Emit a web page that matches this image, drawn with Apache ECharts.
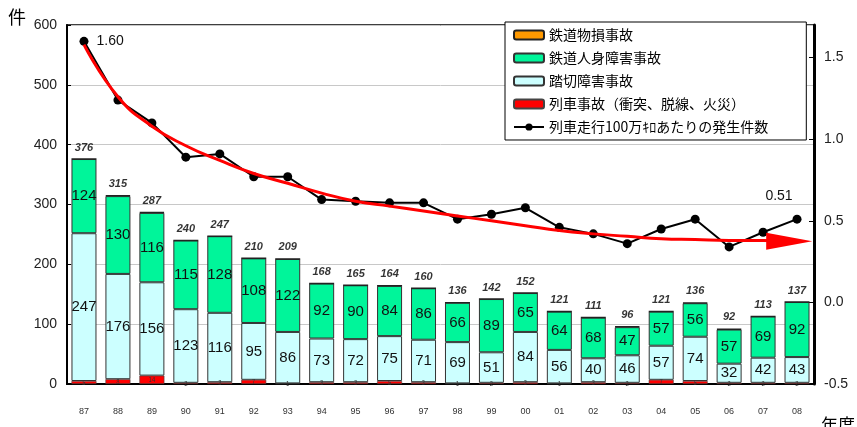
<!DOCTYPE html>
<html>
<head>
<meta charset="utf-8">
<script src="https://cdn.jsdelivr.net/npm/echarts@6/dist/echarts.min.js"></script>
<style>html,body{margin:0;padding:0;background:#fff;}#c{width:857px;height:427px;}</style>
</head>
<body>
<div id="c"></div>
<script>
const years = ['87','88','89','90','91','92','93','94','95','96','97','98','99','00','01','02','03','04','05','06','07','08'];
const trainAccident = [5,8,14,2,3,7,1,3,3,5,3,1,2,3,1,3,2,7,5,2,2,2];
const crossingAccident = [247,176,156,123,116,95,86,73,72,75,71,69,51,84,56,40,46,57,74,32,42,43];
const injuryAccident = [124,130,116,115,128,108,122,92,90,84,86,66,89,65,64,68,47,57,56,57,69,92];
const propertyAccident = [0,1,1,0,0,0,0,0,0,0,0,0,0,0,0,0,1,0,1,1,0,0];
const totals = [376,315,287,240,247,210,209,168,165,164,160,136,142,152,121,111,96,121,136,92,113,137];
const ratePerMillionKm = [1.60,1.24,1.10,0.89,0.91,0.77,0.77,0.63,0.62,0.61,0.61,0.51,0.54,0.58,0.46,0.42,0.36,0.45,0.51,0.34,0.43,0.51];
const trendX = [0,1,2,3,4,5,6,7,8,9,10,11,12,13,14,15,16,17,18,19,20,20.77];
const trendY = [1.58,1.26,1.08,0.96,0.87,0.79,0.73,0.67,0.62,0.59,0.56,0.53,0.50,0.47,0.44,0.42,0.405,0.39,0.385,0.38,0.38,0.375];
const leftTicks = {min:0, max:600, interval:100};
const rightTicks = {min:-0.5, max:1.7, interval:0.5};

const names = ['鉄道物損事故','鉄道人身障害事故','踏切障害事故','列車事故（衝突、脱線、火災）','列車走行100万ｷﾛあたりの発生件数'];
const FONT = '"Noto Sans CJK JP", "Liberation Sans", sans-serif';
const NUM = '"Liberation Sans", Arial, sans-serif';
const chart = echarts.init(document.getElementById('c'));
const barCommon = {type:'bar', stack:'t', barWidth:25, xAxisIndex:0, yAxisIndex:0};
chart.setOption({
  animation:false,
  textStyle:{fontFamily:FONT},
  grid:{left:67, right:43, top:25, bottom:43, show:true, borderColor:'#000', borderWidth:1.5, backgroundColor:'transparent'},
  legend:{
    orient:'vertical', left:505, top:22,
    data:names,
    itemWidth:30, itemHeight:9, itemGap:9,
    backgroundColor:'#fff', borderColor:'#000', borderWidth:1,
    padding:[6,38,6,8],
    textStyle:{fontSize:14, color:'#000', fontFamily:FONT}
  },
  xAxis:[
    {type:'category', data:years, boundaryGap:true,
     axisLine:{onZero:false, lineStyle:{color:'#000', width:2}},
     axisTick:{inside:true, length:4, lineStyle:{color:'#000'}},
     axisLabel:{fontSize:9, color:'#333', margin:23, fontFamily:NUM}},
    {type:'value', min:-0.5, max:21.5, show:false, axisLine:{onZero:false}}
  ],
  yAxis:[
    {type:'value', min:leftTicks.min, max:leftTicks.max, interval:leftTicks.interval,
     axisLine:{show:true, onZero:false, lineStyle:{color:'#000', width:2}},
     axisTick:{show:true, inside:true, length:4, lineStyle:{color:'#000'}},
     axisLabel:{fontSize:14, color:'#222', margin:10, fontFamily:NUM},
     splitLine:{lineStyle:{color:'#c8c8c8', width:1}}},
    {type:'value', min:rightTicks.min, max:rightTicks.max, interval:rightTicks.interval, position:'right',
     axisLine:{show:true, onZero:false, lineStyle:{color:'#000', width:3}},
     axisTick:{show:true, inside:true, length:5, lineStyle:{color:'#000'}},
     axisLabel:{fontSize:14, color:'#222', margin:10, fontFamily:NUM, showMaxLabel:false,
       formatter:v=>v.toFixed(1)},
     splitLine:{show:false}}
  ],
  graphic:[
    {type:'text', left:8, top:8, style:{text:'件', fontSize:18, fill:'#000', fontFamily:FONT}},
    {type:'text', left:821, top:416, style:{text:'年度', fontSize:17, fill:'#000', fontFamily:FONT}}
  ],
  series:[
    Object.assign({}, barCommon, {name:names[3], data:trainAccident,
      itemStyle:{color:'#ff0000', borderColor:'#444', borderWidth:0.6},
      label:{show:true, fontSize:6, color:'#333', formatter:p=>p.value>0?p.value:''}}),
    Object.assign({}, barCommon, {name:names[2], data:crossingAccident,
      itemStyle:{color:'#ccffff', borderColor:'#333', borderWidth:1},
      label:{show:true, fontSize:15, color:'#111', fontFamily:NUM}}),
    Object.assign({}, barCommon, {name:names[1], data:injuryAccident,
      itemStyle:{color:'#00f59a', borderColor:'#333', borderWidth:1},
      label:{show:true, fontSize:15, color:'#111', fontFamily:NUM}}),
    Object.assign({}, barCommon, {name:names[0], data:propertyAccident,
      itemStyle:{color:'#ff9900', borderColor:'#222', borderWidth:1.5}}),
    {type:'scatter', name:'total', data:totals, xAxisIndex:0, yAxisIndex:0, symbolSize:0, silent:true,
      label:{show:true, position:'top', distance:6, fontSize:11, fontStyle:'italic', fontWeight:'bold', color:'#000', fontFamily:NUM}},
    {type:'line', name:names[4], data:ratePerMillionKm.map((v,i)=>{
        if(i===0) return {value:v, label:{show:true, position:'right', distance:8, formatter:v.toFixed(2)}};
        if(i===ratePerMillionKm.length-1) return {value:v, label:{show:true, position:'top', distance:12, offset:[-18,0], formatter:v.toFixed(2)}};
        return v;
      }),
      xAxisIndex:0, yAxisIndex:1, z:5,
      lineStyle:{color:'#000', width:2}, itemStyle:{color:'#000'},
      symbol:'circle', symbolSize:9, showAllSymbol:true,
      label:{show:false, fontSize:14, color:'#111', fontFamily:NUM}},
    {type:'line', name:'trend', data:trendX.map((x,i)=>{
        if(i===trendX.length-1) return {value:[x,trendY[i]], symbol:'triangle', symbolSize:[17,46], symbolRotate:-90};
        return [x,trendY[i]];
      }),
      xAxisIndex:1, yAxisIndex:1, z:6, smooth:0.5, silent:true,
      symbol:'none', lineStyle:{color:'#ff0000', width:3}, itemStyle:{color:'#ff0000'}}
  ]
});
</script>
</body>
</html>
